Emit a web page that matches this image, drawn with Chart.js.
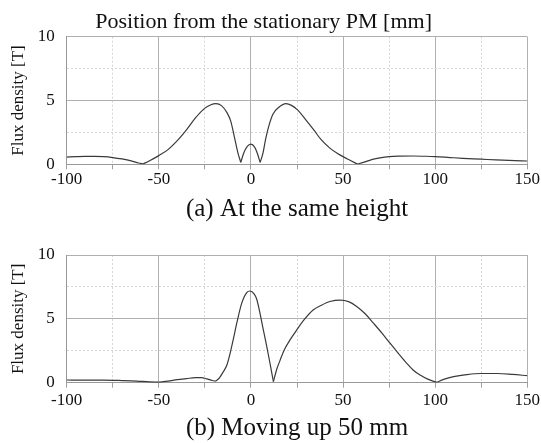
<!DOCTYPE html>
<html>
<head>
<meta charset="utf-8">
<script src="https://cdn.jsdelivr.net/npm/chart.js@4.4.0/dist/chart.umd.min.js"></script>
<style>
body { margin: 0; background: #fff; }
canvas { display: block; }
</style>
</head>
<body>
<canvas id="chartA" width="541" height="222"></canvas>
<canvas id="chartB" width="541" height="221"></canvas>
<script>
// (a) at the same height
const posA = [-100,-95,-90,-85,-80,-75,-70,-65,-61,-58.5,-55,-50,-45,-40,-35,-30,-25,-22,-19,-16,-13,-11,-9,-7,-5.5,-4,-2,0,2,3.5,5,6.5,8,10,12,15,19,22,25,30,34,38,43,47,50,54,57.8,61,66,70,75,80,88,95,100,108,115,125,133,140,150];
const fluxA = [0.57,0.60,0.62,0.62,0.60,0.53,0.42,0.27,0.10,0.03,0.28,0.68,1.15,1.85,2.70,3.65,4.40,4.65,4.75,4.60,4.05,3.40,2.15,0.85,0.15,0.85,1.40,1.58,1.35,0.85,0.15,0.85,2.00,3.15,3.95,4.45,4.75,4.62,4.30,3.45,2.72,1.95,1.25,0.85,0.60,0.30,0.02,0.15,0.38,0.50,0.60,0.64,0.65,0.63,0.60,0.53,0.47,0.40,0.34,0.30,0.26];

// (b) moving up 50 mm
const posB = [-100,-90,-80,-70,-62,-55,-50,-45,-40,-35,-30,-27,-24,-21,-19,-17,-15,-13,-11.3,-9.5,-7.7,-5,-2.3,-0.5,1.7,3.1,4.9,6.5,8.6,10.5,12.2,14,15.8,18,21.2,24.9,29,33.9,38,42.9,48.4,53,57.4,62,66.5,71,75.5,80,84.6,88,91.8,96,100.8,105,110,117,124.6,133.6,142,150];
const fluxB = [0.21,0.20,0.20,0.17,0.13,0.06,0.05,0.12,0.24,0.32,0.39,0.39,0.30,0.17,0.12,0.40,0.86,1.40,2.30,3.45,4.66,6.23,7.06,7.18,6.96,6.55,5.45,4.30,2.83,1.40,0.08,1.05,1.75,2.55,3.35,4.14,4.95,5.71,6.05,6.36,6.47,6.35,5.97,5.40,4.66,3.90,3.09,2.30,1.52,1.00,0.60,0.28,0.03,0.28,0.47,0.63,0.72,0.72,0.65,0.55];

const xLabels = [-100,-50,0,50,100,150];
const yLabels = [0,5,10];

const serif = "'Liberation Serif', 'Times New Roman', serif";
const majorGrid = '#b0b0b0';
const minorGrid = '#d6d6d6';

function isMajor(ctx, step) {
    return ctx.tick && Math.abs(ctx.tick.value % step) < 1e-6;
}

// split the curve at its local minima so the zero crossings stay sharp
function pieces(pos, flux) {
    const pts = pos.map((x, i) => ({x: x, y: flux[i]}));
    const out = [];
    let start = 0;
    for (let i = 1; i < pts.length - 1; i++) {
        if (flux[i] < flux[i - 1] && flux[i] < flux[i + 1] && flux[i] < 0.2) {
            out.push(pts.slice(start, i + 1));
            start = i;
        }
    }
    out.push(pts.slice(start));
    return out.map(d => ({
        data: d,
        borderColor: '#3a3a3a',
        borderWidth: 1.2,
        pointRadius: 0,
        cubicInterpolationMode: 'monotone',
        fill: false
    }));
}

function makeChart(id, pos, flux, subtitle, opts) {
    return new Chart(document.getElementById(id), {
        type: 'line',
        data: { datasets: pieces(pos, flux) },
        options: {
            responsive: false,
            animation: false,
            events: [],
            layout: { padding: { top: opts.padTop, right: 13.7, left: 0, bottom: 0 } },
            plugins: {
                legend: { display: false },
                tooltip: { enabled: false },
                title: opts.title ? {
                    display: true,
                    text: opts.title,
                    color: '#111',
                    font: { family: serif, size: 22, weight: 'normal', lineHeight: 1.2 },
                    padding: { top: 9, bottom: 1.3 }
                } : { display: false }
            },
            scales: {
                x: {
                    type: 'linear',
                    min: -100,
                    max: 150,
                    afterFit: s => {
                        s.height = opts.xHeight;
                        s.paddingLeft = 10;
                        s.paddingRight = 10;
                    },
                    ticks: {
                        stepSize: 25,
                        autoSkip: false,
                        maxRotation: 0,
                        padding: opts.tickPad,
                        color: '#111',
                        font: { family: serif, size: 17 },
                        callback: v => xLabels.includes(v) ? String(v) : ''
                    },
                    grid: {
                        color: c => isMajor(c, 50) ? majorGrid : minorGrid,
                        tickColor: '#a0a0a0',
                        tickLength: 5
                    },
                    border: {
                        color: '#999',
                        dash: c => (c.tick && !isMajor(c, 50)) ? [2, 2] : []
                    },
                    title: {
                        display: true,
                        text: subtitle,
                        color: '#111',
                        font: { family: serif, size: 25, lineHeight: 1 },
                        padding: { top: 0, bottom: opts.subPad }
                    }
                },
                y: {
                    min: 0,
                    max: 10,
                    afterFit: s => { s.width = 66.7; },
                    ticks: {
                        stepSize: 2.5,
                        autoSkip: false,
                        padding: 12,
                        color: '#111',
                        font: { family: serif, size: 17 },
                        callback: v => yLabels.includes(v) ? String(v) : ''
                    },
                    grid: {
                        color: c => isMajor(c, 5) ? majorGrid : minorGrid,
                        drawTicks: false
                    },
                    border: {
                        color: '#999',
                        dash: c => (c.tick && !isMajor(c, 5)) ? [2, 2] : []
                    },
                    title: {
                        display: true,
                        text: 'Flux density [T]',
                        color: '#111',
                        font: { family: serif, size: 17, lineHeight: 1.2 },
                        padding: { top: 8, bottom: 0 }
                    }
                }
            }
        }
    });
}

makeChart('chartA', posA, fluxA, '(a) At the same height', {
    title: 'Position from the stationary PM [mm]',
    padTop: 0,
    xHeight: 222 - 164.3,
    tickPad: 0,
    subPad: 0
});

makeChart('chartB', posB, fluxB, '(b) Moving up 50 mm', {
    title: null,
    padTop: 33,
    xHeight: 221 - 160.7,
    tickPad: 3,
    subPad: 2
});
</script>
</body>
</html>
